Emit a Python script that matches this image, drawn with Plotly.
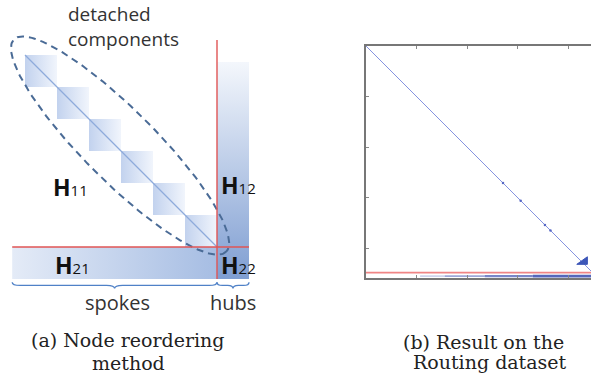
import numpy as np
import plotly.graph_objects as go

# ---------------- data ----------------
# (a) schematic, in matrix units (one detached component = 1 unit)
component_sizes = [1, 1, 1, 1, 1, 1]
hub_size = 1
region_names = ["H", "H", "H", "H"]
region_subs = ["11", "12", "21", "22"]
brace_labels = ["spokes", "hubs"]
callout_lines = ["detached", "components"]

# (b) Routing dataset spy plot
n_nodes = 4590
n_spokes = 4485
tick_vals = [1000, 2000, 3000, 4000]
diag_dots = [2710, 3060, 3540, 3650]
band_start = [1070, 1560, 2350, 3300]
band_end = [1560, 2350, 3300, 4590]
band_level = [0.15, 0.4, 0.7, 1.0]
blob_x = [4380, 4170, 4380]
blob_y = [4170, 4320, 4320]

captions = [["(a) Node reordering", "method"], ["(b) Result on the", "Routing dataset"]]

# ---------------- figure ----------------
W, H = 591, 381
fig = go.Figure()

n_sp = sum(component_sizes)
n_tot = n_sp + hub_size
pad = 0.4

XA = dict(xaxis="x", yaxis="y")


def grad_rect(x0, x1, y0, y1, kind, c0, c1):
    if kind == "horizontal":
        st, sp = x0, x1
    else:
        st, sp = y0, y1
    fig.add_trace(go.Scatter(
        x=[x0, x1, x1, x0, x0], y=[y0, y0, y1, y1, y0], mode="lines",
        fill="toself", line=dict(width=0),
        fillgradient=dict(type=kind, colorscale=[[0, c0], [1, c1]], start=st, stop=sp),
        hoverinfo="skip", showlegend=False, **XA))


# detached component blocks
edges = np.concatenate([[0], np.cumsum(component_sizes)])
for a, b in zip(edges[:-1], edges[1:]):
    grad_rect(a, b, a, b, "horizontal", "#c2d2ee", "#f1f5fc")

# spokes band (H21) and hubs column (H12, H22)
grad_rect(-pad, n_sp, n_sp, n_tot, "horizontal", "#e4ebf7", "#a6bde3")
grad_rect(n_sp, n_tot, 0.22, n_tot, "vertical", "#f4f7fc", "#7f9ed2")

# diagonal
fig.add_trace(go.Scatter(x=[0, n_sp], y=[0, n_sp], mode="lines",
                         line=dict(color="#8eaadb", width=1.2),
                         hoverinfo="skip", showlegend=False, **XA))

# ellipse around detached components
t = np.linspace(0, 2 * np.pi, 200)
cx, cy = n_sp / 2 - 0.03, n_sp / 2 - 0.17
ea, eb = 4.69, 1.12
ang = np.pi / 4
ex = cx + ea * np.cos(t) * np.cos(ang) - eb * np.sin(t) * np.sin(ang)
ey = cy + ea * np.cos(t) * np.sin(ang) + eb * np.sin(t) * np.cos(ang)
fig.add_trace(go.Scatter(x=ex, y=ey, mode="lines",
                         line=dict(color="#4a6b96", width=2, dash="7px,5px"),
                         hoverinfo="skip", showlegend=False, **XA))

# red partition lines
fig.add_trace(go.Scatter(x=[n_sp, n_sp], y=[-0.47, n_tot], mode="lines",
                         line=dict(color="#e05555", width=1.4),
                         hoverinfo="skip", showlegend=False, **XA))
fig.add_trace(go.Scatter(x=[-pad, n_tot], y=[n_sp, n_sp], mode="lines",
                         line=dict(color="#e05555", width=1.4),
                         hoverinfo="skip", showlegend=False, **XA))


def brace(x0, x1, yt, d):
    xm = (x0 + x1) / 2
    ym = yt + d * 0.5
    yb = yt + d
    r = min(0.25, (x1 - x0) / 6)
    return (f"M {x0},{yt} Q {x0},{ym} {x0 + r},{ym} L {xm - r},{ym} "
            f"Q {xm},{ym} {xm},{yb} Q {xm},{ym} {xm + r},{ym} "
            f"L {x1 - r},{ym} Q {x1},{ym} {x1},{yt}")


for (x0, x1) in [(-pad, n_sp), (n_sp, n_tot)]:
    fig.add_shape(type="path", path=brace(x0, x1, n_tot + 0.1, 0.2),
                  xref="x", yref="y", line=dict(color="#4f81c7", width=1.3))

# region labels
lab_pos = [(1.41, 4.13), (6.66, 4.06), (1.47, 6.56), (6.66, 6.56)]
for nm, sb, (lx, ly) in zip(region_names, region_subs, lab_pos):
    fig.add_annotation(x=lx, y=ly, xref="x", yref="y", showarrow=False,
                       text=f"<b>{nm}</b><span style='font-size:15px'>{sb}</span>",
                       font=dict(family="Open Sans", size=23, color="#111"))

# brace labels
for txt, bx in zip(brace_labels, [(-pad + n_sp) / 2 + 0.1, n_sp + hub_size / 2]):
    fig.add_annotation(x=bx, y=7.72, xref="x", yref="y", showarrow=False, text=txt,
                       font=dict(family="Open Sans", size=20, color="#333"))

# callout (two lines in one text block)
fig.add_annotation(x=1.28, y=-0.905, xref="x", yref="y", showarrow=False,
                   xanchor="left", yanchor="middle", align="left",
                   text="<br>".join(callout_lines),
                   font=dict(family="Open Sans", size=19, color="#333"))

# ---------------- (b) spy plot ----------------
XB = dict(xaxis="x2", yaxis="y2")
fig.add_trace(go.Scatter(x=[0, n_nodes], y=[0, n_nodes], mode="lines",
                         line=dict(color="#8593e0", width=1),
                         hoverinfo="skip", showlegend=False, **XB))
fig.add_trace(go.Scatter(x=diag_dots, y=diag_dots, mode="markers",
                         marker=dict(color="#5566c4", size=2.5),
                         hoverinfo="skip", showlegend=False, **XB))
fig.add_trace(go.Scatter(x=blob_x + blob_x[:1], y=blob_y + blob_y[:1], mode="lines",
                         fill="toself", fillcolor="#3c56b8", line=dict(color="#3c56b8", width=1),
                         hoverinfo="skip", showlegend=False, **XB))
band_y = (n_spokes + n_nodes) / 2 + 15
for s, e, lv in zip(band_start, band_end, band_level):
    c = f"rgba(55,75,175,{0.25 + 0.6 * lv})"
    fig.add_trace(go.Scatter(x=[s, e], y=[band_y, band_y], mode="lines",
                             line=dict(color=c, width=1 + 1.6 * lv),
                             hoverinfo="skip", showlegend=False, **XB))
fig.add_trace(go.Scatter(x=[0, n_nodes], y=[n_spokes, n_spokes], mode="lines",
                         line=dict(color="#f08585", width=1.8),
                         hoverinfo="skip", showlegend=False, **XB))

# captions
cap_pos = [[(128, 340), (128.5, 363)], [(483, 342), (489.5, 362)]]
for lines, poss in zip(captions, cap_pos):
    for txt, (px, py) in zip(lines, poss):
        fig.add_annotation(x=px / W, y=1 - py / H, xref="paper", yref="paper",
                           xanchor="center", yanchor="middle",
                           showarrow=False, text=txt,
                           font=dict(family="DejaVu Serif", size=19, color="#222"))

# axes
left_px_per_unit = 32.0
ux0 = -25 / left_px_per_unit
ux1 = ux0 + 300 / left_px_per_unit
vy0 = -55 / left_px_per_unit
vy1 = vy0 + H / left_px_per_unit

box_left, box_top, box_px = 366, 46, 232
b_dom_x0 = box_left / W
b_range_x1 = n_nodes * (W - box_left) / box_px

fig.update_layout(
    width=W, height=H, margin=dict(l=0, r=0, t=0, b=0),
    paper_bgcolor="white", plot_bgcolor="rgba(0,0,0,0)",
    showlegend=False,
    xaxis=dict(domain=[0, 300 / W], range=[ux0, ux1], visible=False, fixedrange=True),
    yaxis=dict(domain=[0, 1], range=[vy1, vy0], visible=False, fixedrange=True),
    xaxis2=dict(domain=[b_dom_x0, 1], range=[0, b_range_x1], anchor="y2",
                showline=True, linecolor="#777", linewidth=1.5, mirror="ticks",
                ticks="inside", ticklen=3, tickcolor="#888", tickvals=tick_vals,
                showticklabels=False, showgrid=False, zeroline=False),
    yaxis2=dict(domain=[1 - (box_top + box_px) / H, 1 - box_top / H],
                range=[n_nodes, 0], anchor="x2",
                showline=True, linecolor="#777", linewidth=1.5,
                ticks="inside", ticklen=3, tickcolor="#888", tickvals=tick_vals,
                showticklabels=False, showgrid=False, zeroline=False),
)

fig.write_html("out.html", config={"displayModeBar": False},
               post_script="document.body.style.margin='0';document.body.style.overflow='hidden';")
